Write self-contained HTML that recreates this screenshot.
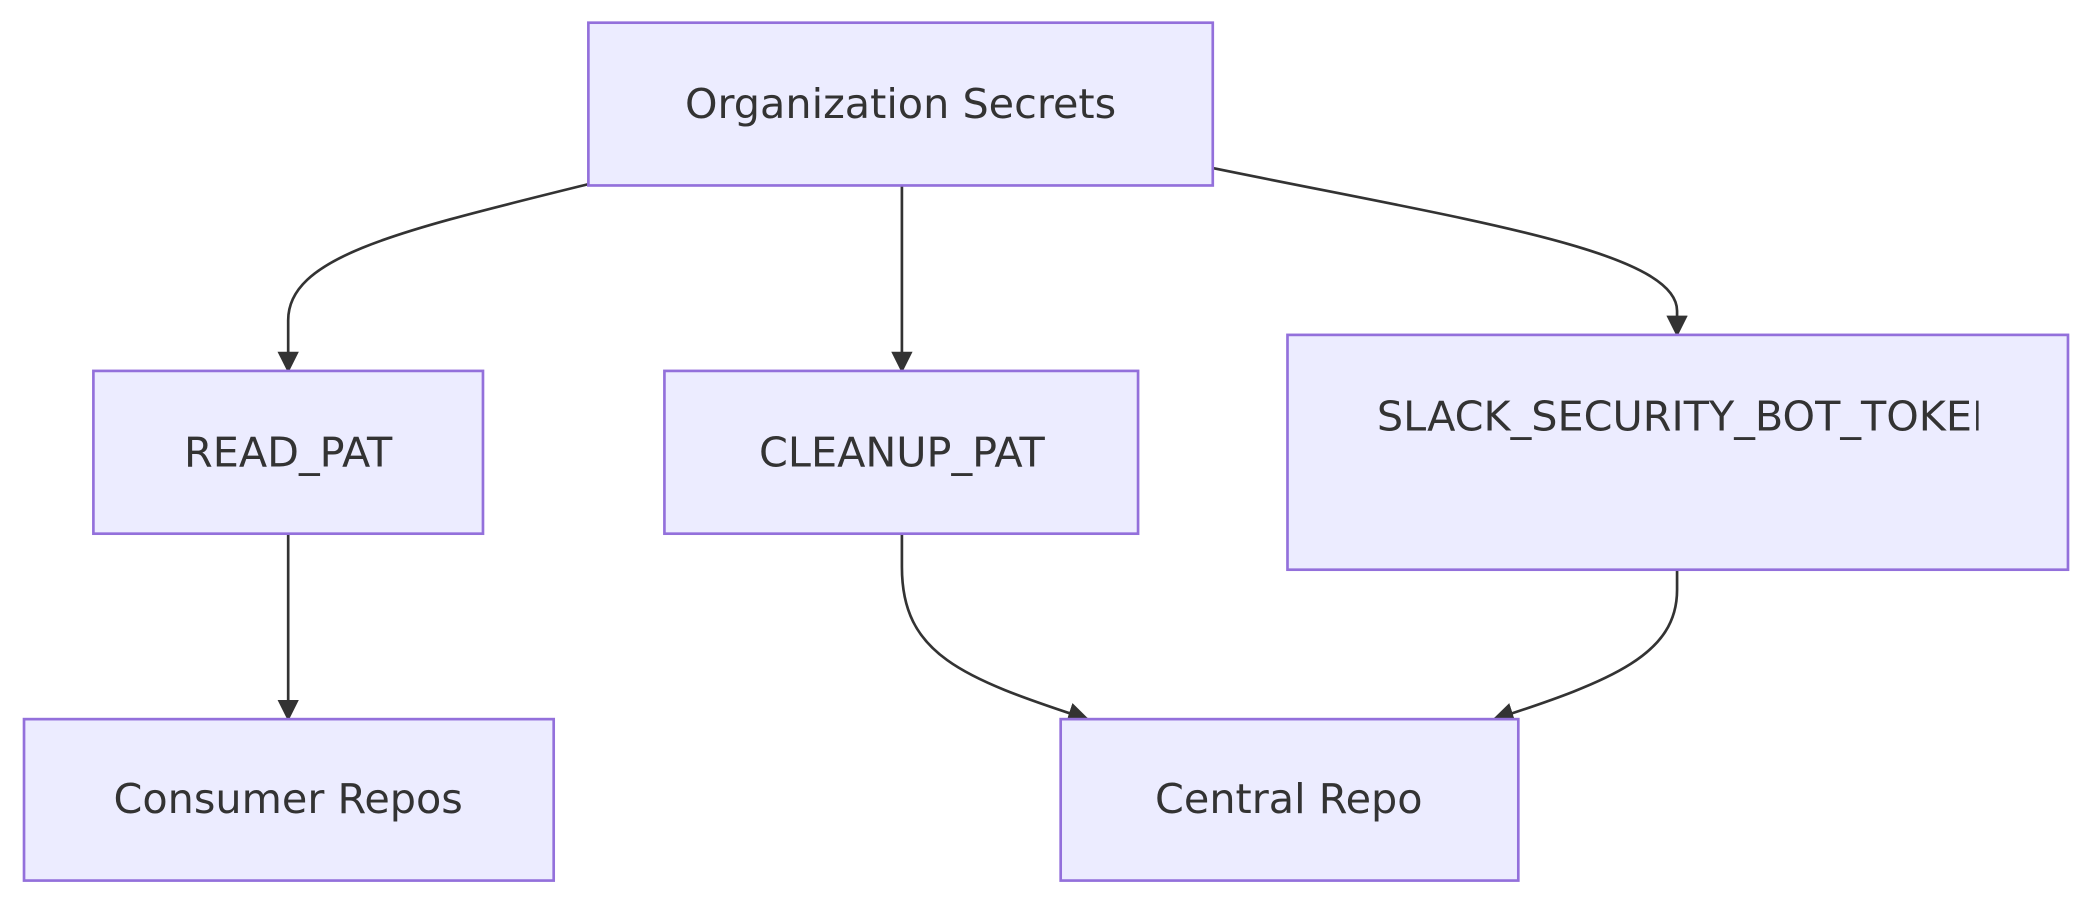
<!DOCTYPE html>
<html><head><meta charset="utf-8"><style>
html,body{margin:0;padding:0;background:#fff;}
svg{display:block;}
text{font-family:"DejaVu Sans","Liberation Sans",sans-serif;font-size:31px;fill:#333;text-anchor:middle;dominant-baseline:central;}
</style></head><body>
<svg width="2092" height="905" viewBox="0 0 1568 678.3" xmlns="http://www.w3.org/2000/svg">
<defs>
<marker id="a" viewBox="0 0 10 10" refX="9" refY="5" markerWidth="16" markerHeight="16" markerUnits="userSpaceOnUse" orient="auto">
<path d="M0,0 L10,5 L0,10 z" fill="#333"/>
</marker>
<clipPath id="c"><rect x="965" y="251" width="518" height="176"/></clipPath>
</defs>
<g fill="none" stroke="#333" stroke-width="2">
<path d="M441,138 C300,173 216,192 216,240 L216,278" marker-end="url(#a)"/>
<path d="M676,139 L676,278" marker-end="url(#a)"/>
<path d="M909,126 C1100,165 1257,188 1257,233 L1257,251" marker-end="url(#a)"/>
<path d="M216,400 L216,539" marker-end="url(#a)"/>
<path d="M676,400 L676,425 C676,490 720,508 815,539" marker-end="url(#a)"/>
<path d="M1257,427 L1257,442 C1257,490 1210,510 1120,539" marker-end="url(#a)"/>
</g>
<g fill="#ECECFF" stroke="#9370DB" stroke-width="2">
<rect x="441" y="17" width="468" height="122"/>
<rect x="70" y="278" width="292" height="122"/>
<rect x="498" y="278" width="355" height="122"/>
<rect x="965" y="251" width="585" height="176"/>
<rect x="18" y="539" width="397" height="121"/>
<rect x="795" y="539" width="343" height="121"/>
</g>
<text x="675" y="78">Organization Secrets</text>
<text x="216" y="339">READ_PAT</text>
<text x="676" y="339">CLEANUP_PAT</text>
<g clip-path="url(#c)"><text x="1032" y="312" style="text-anchor:start">SLACK_SECURITY_BOT_TOKEN</text></g>
<text x="216" y="599">Consumer Repos</text>
<text x="966" y="599">Central Repo</text>
</svg>
</body></html>
